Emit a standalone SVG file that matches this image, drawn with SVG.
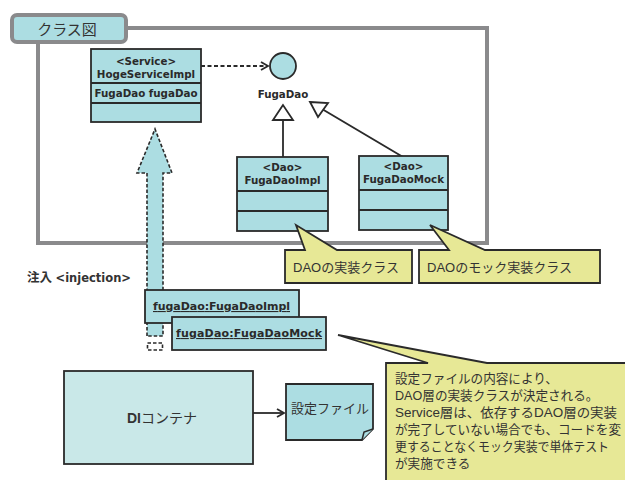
<svg xmlns="http://www.w3.org/2000/svg" width="625" height="480" viewBox="0 0 625 480">
  <style>
    .frame { fill: none; stroke: #8a8a8c; stroke-width: 4; }
    .tab { fill: #acdde2; stroke: #8a8a8c; stroke-width: 4; }
    .cls { fill: #acdde2; stroke: #2a2a2a; stroke-width: 1.8; }
    .note { fill: #e7e896; stroke: #2a2a2a; stroke-width: 1.8; stroke-linejoin: miter; }
    .line { fill: none; stroke: #2a2a2a; stroke-width: 1.8; }
    .b { font-family: "DejaVu Sans", "Noto Sans CJK JP", sans-serif; font-weight: bold; font-size: 10.3px; fill: #2a2a2a; }
    .u { font-family: "DejaVu Sans", sans-serif; font-weight: bold; font-size: 11px; fill: #2a2a2a; text-decoration: underline; }
    .jp { font-family: "Liberation Sans", "Noto Sans CJK JP", sans-serif; font-size: 13px; fill: #333333; }
  </style>
  <defs>
    <marker id="open" markerWidth="10" markerHeight="10" refX="8" refY="5" orient="auto" markerUnits="userSpaceOnUse">
      <path d="M1,1 L8,5 L1,9" fill="none" stroke="#2a2a2a" stroke-width="1.8"/>
    </marker>
  </defs>

  <!-- class diagram frame -->
  <g id="frame">
    <rect class="frame" x="38" y="28" width="449" height="215"/>
    <rect class="tab" x="12" y="15" width="114" height="27" rx="5"/>
    <text class="jp" x="67" y="35" text-anchor="middle" style="font-size:15px">クラス図</text>
  </g>

  <!-- connectors -->
  <g id="connectors">
    <line class="line" x1="201" y1="66" x2="268" y2="66" stroke-dasharray="4,2.5" marker-end="url(#open)"/>
    <line class="line" x1="283" y1="120" x2="283" y2="157"/>
    <polygon points="283,105 273,120 293,120" fill="#ffffff" stroke="#2a2a2a" stroke-width="1.8"/>
    <line class="line" x1="403" y1="157" x2="322" y2="109"/>
    <polygon points="310,102 328,103 318,117" fill="#ffffff" stroke="#2a2a2a" stroke-width="1.8"/>
    <line class="line" x1="253" y1="413" x2="284" y2="413" marker-end="url(#open)"/>
  </g>

  <g id="hoge-service-impl">
    <rect class="cls" x="91" y="49" width="110" height="73"/>
    <line class="line" x1="91" y1="83" x2="201" y2="83"/>
    <line class="line" x1="91" y1="103" x2="201" y2="103"/>
    <text class="b" x="146" y="65" text-anchor="middle">&lt;Service&gt;</text>
    <text class="b" x="146" y="78" text-anchor="middle">HogeServiceImpl</text>
    <text class="b" x="146" y="97" text-anchor="middle">FugaDao fugaDao</text>
  </g>

  <g id="fuga-dao">
    <circle cx="283" cy="66" r="13" fill="#acdde2" stroke="#2a2a2a" stroke-width="1.8"/>
    <text class="b" x="283" y="98" text-anchor="middle" style="font-weight:600">FugaDao</text>
  </g>

  <g id="fuga-dao-impl">
    <rect class="cls" x="237" y="157" width="91" height="74"/>
    <line class="line" x1="237" y1="191" x2="328" y2="191"/>
    <line class="line" x1="237" y1="211" x2="328" y2="211"/>
    <text class="b" x="282.5" y="171" text-anchor="middle">&lt;Dao&gt;</text>
    <text class="b" x="282.5" y="184" text-anchor="middle">FugaDaoImpl</text>
  </g>

  <g id="fuga-dao-mock">
    <rect class="cls" x="359" y="156" width="89" height="74"/>
    <line class="line" x1="359" y1="190" x2="448" y2="190"/>
    <line class="line" x1="359" y1="210" x2="448" y2="210"/>
    <text class="b" x="403.5" y="170" text-anchor="middle">&lt;Dao&gt;</text>
    <text class="b" x="403.5" y="183" text-anchor="middle">FugaDaoMock</text>
  </g>

  <g id="note-impl">
    <path class="note" d="M285,250 H305 L296,225 L337,250 H412 V283 H285 Z"/>
    <text class="jp" x="293" y="272">DAOの実装クラス</text>
  </g>

  <g id="note-mock">
    <path class="note" d="M419,250 H449 L430,225 L485,250 H600 V283 H419 Z"/>
    <text class="jp" x="427" y="272">DAOのモック実装クラス</text>
  </g>

  <!-- injection arrow -->
  <g id="injection">
    <path d="M147,336 V173 H137 L155,129 L172,173 H163 V336 Z" fill="#acdde2" stroke="#2a2a2a" stroke-width="1.6" stroke-dasharray="3.5,2"/>
    <rect x="147.5" y="343" width="15" height="7" fill="none" stroke="#2a2a2a" stroke-width="1.6" stroke-dasharray="3.5,2"/>
    <text class="jp" x="27" y="282" style="font-size:12.5px"><tspan font-weight="bold">注入</tspan> <tspan style="font-family:'DejaVu Sans',sans-serif;font-weight:bold;font-size:11.5px">&lt;injection&gt;</tspan></text>
  </g>

  <g id="instance-impl">
    <rect class="cls" x="145" y="290" width="154" height="33"/>
    <text class="u" x="153" y="310" textLength="137">fugaDao:FugaDaoImpl</text>
  </g>

  <g id="instance-mock">
    <rect class="cls" x="172" y="317" width="154" height="33"/>
    <text class="u" x="176" y="337" textLength="146">fugaDao:FugaDaoMock</text>
  </g>

  <g id="note-config">
    <path class="note" d="M338,335 L428,363 H386 V490 H630 V363 H487 Z"/>
    <g style="font-size:12.6px">
      <text class="jp" x="395" y="383" style="font-size:12.6px">設定ファイルの内容により、</text>
      <text class="jp" x="395" y="400" style="font-size:12.6px">DAO層の実装クラスが決定される。</text>
      <text class="jp" x="395" y="417" style="font-size:12.6px" textLength="222" lengthAdjust="spacingAndGlyphs">Service層は、依存するDAO層の実装</text>
      <text class="jp" x="395" y="434" style="font-size:12.6px" textLength="226" lengthAdjust="spacingAndGlyphs">が完了していない場合でも、コードを変</text>
      <text class="jp" x="395" y="451" style="font-size:12.6px" textLength="214" lengthAdjust="spacingAndGlyphs">更することなくモック実装で単体テスト</text>
      <text class="jp" x="395" y="468" style="font-size:12.6px">が実施できる</text>
    </g>
  </g>

  <g id="di-container">
    <rect x="64" y="371" width="189" height="93" fill="#c9e8e8" stroke="#2a2a2a" stroke-width="1.8"/>
    <text class="jp" x="162" y="423" text-anchor="middle" style="font-size:14px"><tspan font-weight="bold">DI</tspan>コンテナ</text>
  </g>

  <g id="config-file">
    <path d="M286,384 H373 V429 L362,440 H286 Z" fill="#acdde2" stroke="#2a2a2a" stroke-width="1.8"/>
    <path d="M362,440 L364,432 L373,429" fill="#acdde2" stroke="#2a2a2a" stroke-width="1.5"/>
    <text class="jp" x="291" y="413">設定ファイル</text>
  </g>
</svg>
